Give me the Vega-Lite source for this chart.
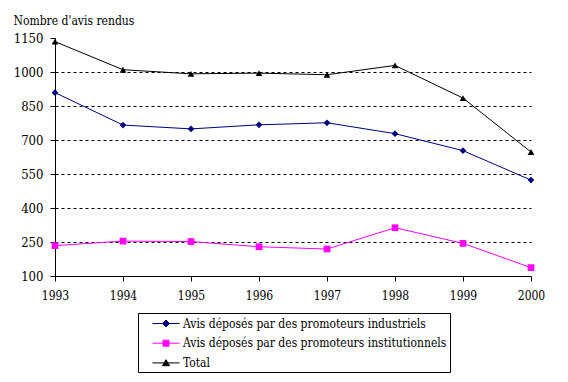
{
  "$schema": "https://vega.github.io/schema/vega-lite/v6.json",
  "width": 476,
  "height": 238,
  "autosize": "none",
  "padding": {"left": 55, "top": 38, "right": 37, "bottom": 106},
  "background": "white",
  "config": {
    "view": {"stroke": null},
    "axis": {"labelColor": "black", "domainColor": "black", "tickColor": "black", "titleFontWeight": "normal", "titleColor": "black"}
  },
  "data": {
    "values": [
      {"year": 1993, "series": "Avis déposés par des promoteurs industriels", "value": 909},
      {"year": 1994, "series": "Avis déposés par des promoteurs industriels", "value": 766},
      {"year": 1995, "series": "Avis déposés par des promoteurs industriels", "value": 749},
      {"year": 1996, "series": "Avis déposés par des promoteurs industriels", "value": 767},
      {"year": 1997, "series": "Avis déposés par des promoteurs industriels", "value": 776},
      {"year": 1998, "series": "Avis déposés par des promoteurs industriels", "value": 728},
      {"year": 1999, "series": "Avis déposés par des promoteurs industriels", "value": 653},
      {"year": 2000, "series": "Avis déposés par des promoteurs industriels", "value": 523},
      {"year": 1993, "series": "Avis déposés par des promoteurs institutionnels", "value": 234},
      {"year": 1994, "series": "Avis déposés par des promoteurs institutionnels", "value": 254},
      {"year": 1995, "series": "Avis déposés par des promoteurs institutionnels", "value": 252},
      {"year": 1996, "series": "Avis déposés par des promoteurs institutionnels", "value": 229},
      {"year": 1997, "series": "Avis déposés par des promoteurs institutionnels", "value": 219},
      {"year": 1998, "series": "Avis déposés par des promoteurs institutionnels", "value": 313},
      {"year": 1999, "series": "Avis déposés par des promoteurs institutionnels", "value": 244},
      {"year": 2000, "series": "Avis déposés par des promoteurs institutionnels", "value": 137},
      {"year": 1993, "series": "Total", "value": 1134},
      {"year": 1994, "series": "Total", "value": 1010},
      {"year": 1995, "series": "Total", "value": 992},
      {"year": 1996, "series": "Total", "value": 995},
      {"year": 1997, "series": "Total", "value": 988},
      {"year": 1998, "series": "Total", "value": 1029},
      {"year": 1999, "series": "Total", "value": 885},
      {"year": 2000, "series": "Total", "value": 647}
    ]
  },
  "encoding": {
    "x": {
      "field": "year", "type": "quantitative",
      "scale": {"domain": [1993, 2000], "nice": false, "zero": false},
      "axis": {"values": [1993, 1994, 1995, 1996, 1997, 1998, 1999, 2000], "format": "d", "title": null, "grid": false, "tickSize": 5, "labelPadding": 9, "labelFlush": false, "labelOverlap": false, "labelFont": "DejaVu Serif Condensed", "labelFontSize": 12}
    },
    "y": {
      "field": "value", "type": "quantitative",
      "scale": {"domain": [100, 1150], "nice": false, "zero": false},
      "axis": {
        "values": [100, 250, 400, 550, 700, 850, 1000, 1150],
        "format": "d",
        "labelFont": "DejaVu Serif Condensed", "labelFontSize": 13,
        "title": "Nombre d'avis rendus",
        "titleFont": "DejaVu Serif Condensed", "titleFontSize": 12,
        "titleAngle": 0, "titleAlign": "left", "titleBaseline": "middle",
        "titleX": -42, "titleY": -18,
        "tickSize": 5, "labelPadding": 7,
        "grid": true, "gridColor": "black", "gridDash": [3, 3], "gridWidth": 1,
        "gridOpacity": {"condition": {"test": "datum.value == 100 || datum.value == 1150", "value": 0}, "value": 1}
      }
    },
    "color": {
      "field": "series", "type": "nominal",
      "scale": {
        "domain": ["Avis déposés par des promoteurs industriels", "Avis déposés par des promoteurs institutionnels", "Total"],
        "range": ["#000080", "#FF00FF", "#000000"]
      },
      "legend": {
        "orient": "none", "legendX": 83, "legendY": 275,
        "title": null, "direction": "vertical",
        "strokeColor": "black", "fillColor": "white", "padding": 3,
        "symbolSize": 196, "symbolStrokeWidth": 1,
        "labelOffset": 27, "rowPadding": 5.7,
        "labelFont": "DejaVu Serif Condensed", "labelFontSize": 12, "labelColor": "black", "labelLimit": 400,
        "encode": {
          "symbols": {
            "update": {
              "shape": {"signal": "datum.value === 'Total' ? 'M0.57,0H4.43M2,0.4L2.5,-0.45L3,0.4Z' : (datum.value === 'Avis déposés par des promoteurs industriels' ? 'M0.57,0H4.43M2,0L2.5,-0.5L3,0L2.5,0.5Z' : 'M0.57,0H4.43M2.07,-0.43H2.93V0.43H2.07Z')"},
              "fill": {"scale": "color", "field": "value"},
              "stroke": {"scale": "color", "field": "value"},
              "strokeWidth": {"value": 1},
              "opacity": {"value": 1}
            }
          }
        }
      }
    }
  },
  "layer": [
    {"mark": {"type": "line", "strokeWidth": 1}},
    {
      "transform": [{"filter": {"field": "series", "equal": "Avis déposés par des promoteurs industriels"}}],
      "mark": {"type": "point", "filled": true, "opacity": 1, "size": 45, "shape": "diamond"}
    },
    {
      "transform": [{"filter": {"field": "series", "equal": "Avis déposés par des promoteurs institutionnels"}}],
      "mark": {"type": "point", "filled": true, "opacity": 1, "size": 45, "shape": "square"}
    },
    {
      "transform": [{"filter": {"field": "series", "equal": "Total"}}],
      "mark": {"type": "point", "filled": true, "opacity": 1, "size": 45, "shape": "triangle-up"}
    }
  ]
}
